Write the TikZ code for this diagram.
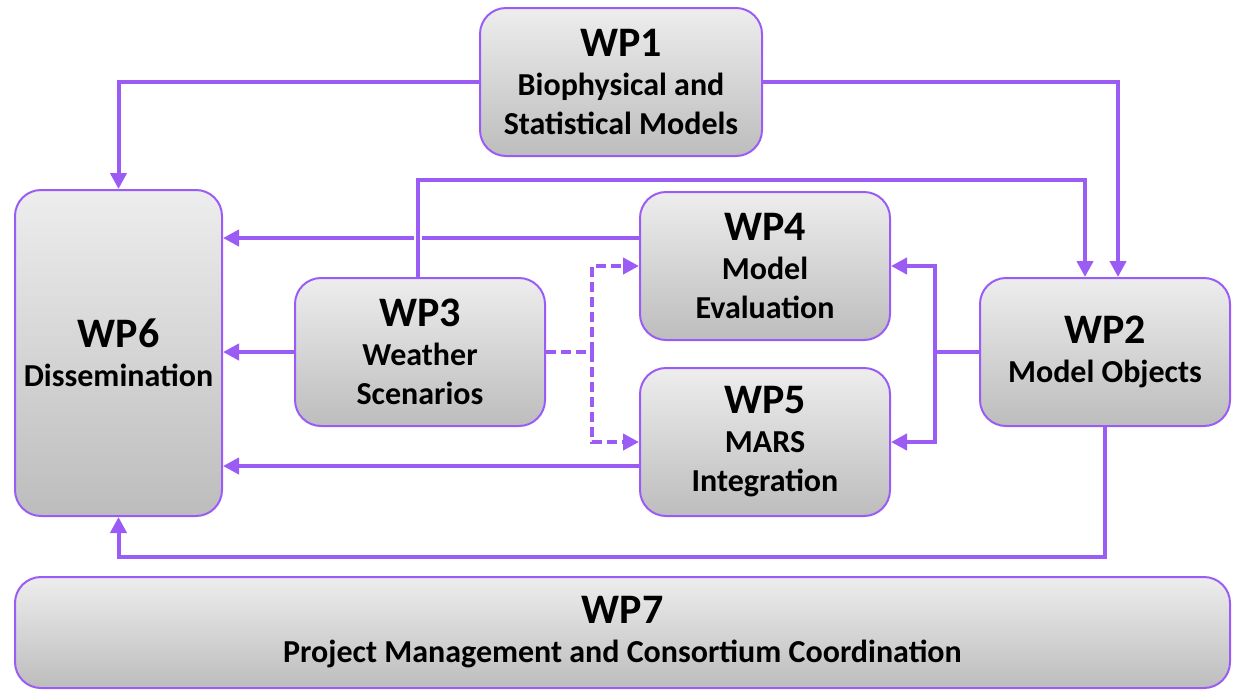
\documentclass[tikz,border=0pt]{standalone}
\usepackage{fontspec}
\setmainfont{Carlito}
\usetikzlibrary{arrows.meta,positioning}
\definecolor{wpline}{RGB}{155,92,246}
\newcommand{\wptitle}[1]{{\fontsize{21}{19.5}\selectfont #1}}

\begin{document}
\begin{tikzpicture}[x=0.5pt,y=-0.5pt,
        wp/.style={draw=wpline,line width=1pt,rounded corners=13pt,
            top color=gray!14,bottom color=gray!52,align=center,
            font=\fontsize{16}{19.5}\selectfont\bfseries,
            minimum width=125pt,minimum height=74pt},
        flow/.style={wpline,line width=2pt,-{Triangle[length=8pt,width=8pt]}},
        dflow/.style={flow,dash pattern=on 5pt off 2.5pt},
        gap/.style={white,line width=4pt}]

    \useasboundingbox (0,0) rectangle (1246,697);

    \node[wp,minimum width=141pt] (wp1) at (621,82) {\wptitle{WP1}\\Biophysical and\\Statistical Models};
    \node[wp,minimum width=103.5pt,minimum height=163pt] (wp6) at (118.5,353) {\wptitle{WP6}\\Dissemination};
    \node[wp] (wp4) at (765,266) {\wptitle{WP4}\\Model\\Evaluation};
    \node[wp] (wp3) at (420,352) {\wptitle{WP3}\\Weather\\Scenarios};
    \node[wp] (wp5) at (765,442) {\wptitle{WP5}\\MARS\\Integration};
    \node[wp] (wp2) at (1105,352) {\wptitle{WP2}\\Model Objects};
    \node[wp,minimum width=607.5pt,minimum height=55.5pt] (wp7) at (622.5,632.5) {\wptitle{WP7}\\Project Management and Consortium Coordination};

    \coordinate (top) at (418,180);
    \coordinate (split) at (592,352);
    \coordinate (join) at (935,352);
    \coordinate (bot) at (1105,557);

    % from WP1
    \draw[flow] (wp1.west) -| (wp6.north);
    \draw[flow] (wp1.east) -| ([xshift=6.5pt]wp2.north);

    % into WP6
    \draw[flow] ([yshift=14pt]wp4.west) -- ([yshift=14pt]wp4.west -| wp6.east);
    \draw[flow] (wp3.west) -- (wp3.west -| wp6.east);
    \draw[flow] ([yshift=-12pt]wp5.west) -- ([yshift=-12pt]wp5.west -| wp6.east);
    \draw[flow] (wp2.south) -- (bot) -| (wp6.south);

    % WP3 over the top to WP2
    \draw[gap,shorten <=16pt,shorten >=25pt] (wp3.north -| top) -- (top);
    \draw[flow] (wp3.north -| top) -- (top) -| ([xshift=-10pt]wp2.north);

    % WP3 to WP4 and WP5
    \draw[dflow,-] (wp3.east) -- (split);
    \draw[dflow] (split) |- (wp4.west);
    \draw[dflow] (split) |- (wp5.west);

    % WP2 to WP4 and WP5
    \draw[flow,-] (wp2.west) -- (join);
    \draw[flow] (join) |- (wp4.east);
    \draw[flow] (join) |- (wp5.east);

\end{tikzpicture}
\end{document}
